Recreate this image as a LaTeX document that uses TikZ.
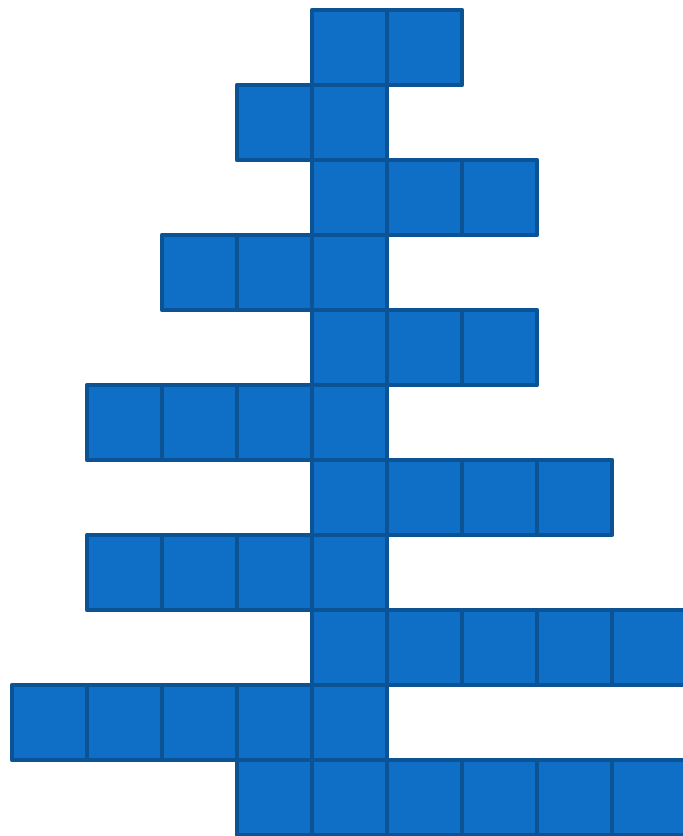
\documentclass[tikz,border=0pt]{standalone}
\definecolor{cellfill}{HTML}{0F6FC6}
\definecolor{celledge}{HTML}{0B5394}
\tikzset{cell/.style={fill=cellfill,draw=celledge,line width=4.5pt,line join=round}}
\begin{document}
\begin{tikzpicture}[x=1pt,y=1pt]
\useasboundingbox (0,0) rectangle (683,836);
\clip (0,0) rectangle (683,836);
% row: first column, last column
\foreach \r/\a/\b in {0/4/5,1/3/4,2/4/6,3/2/4,4/4/6,5/1/4,6/4/7,7/1/4,8/4/8,9/0/4,10/3/8}{
  \foreach \c in {\a,...,\b}{
    \draw[cell] ({12+75*\c},{836-10-75*\r}) rectangle ++(75,-75);
  }
}
\end{tikzpicture}
\end{document}
